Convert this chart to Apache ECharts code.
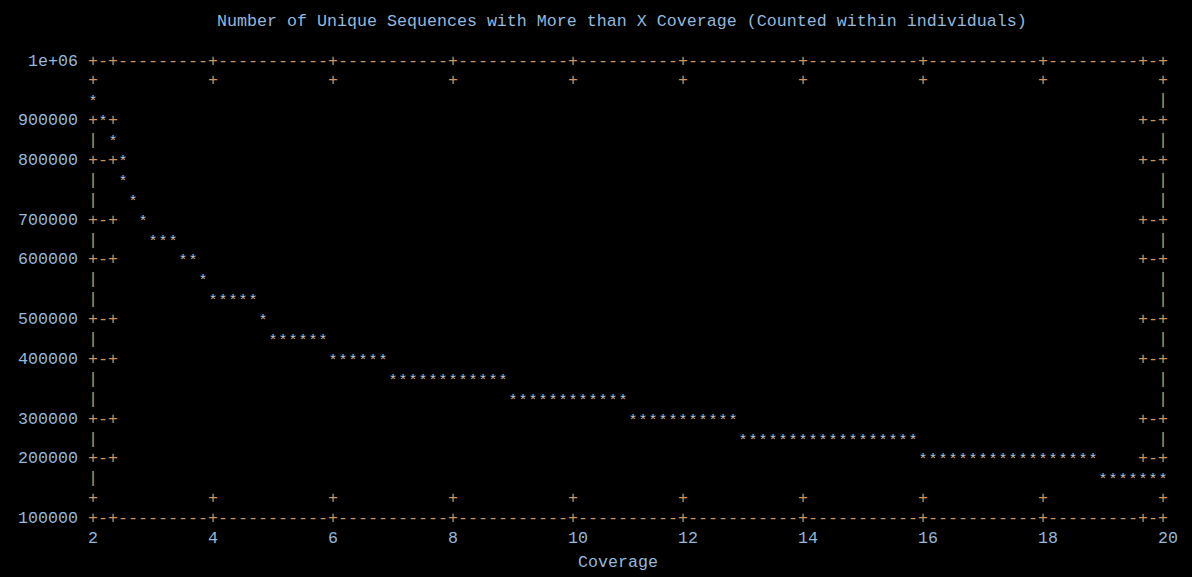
<!DOCTYPE html>
<html>
<head>
<meta charset="utf-8">
<script src="https://cdn.jsdelivr.net/npm/echarts@6/dist/echarts.min.js"></script>
<style>
html,body{margin:0;padding:0;background:#000;}
#chart{width:1192px;height:577px;}
</style>
</head>
<body>
<div id="chart"></div>
<script>
// ---- data ----
const titleText = 'Number of Unique Sequences with More than X Coverage (Counted within individuals)';
const xAxisName = 'Coverage';
const coverage = [2, 3, 4, 5, 6, 7, 8, 9, 10, 11, 12, 13, 14, 15, 16, 17, 18, 19, 20];
const uniqueSequences = [920000, 650000, 530000, 455000, 415000, 380000, 365000, 340000, 325000, 300000, 285000, 265000, 255000, 245000, 225000, 215000, 205000, 185000, 175000];
const xTicks = [2, 4, 6, 8, 10, 12, 14, 16, 18, 20];
const xTickLabels = ['2', '4', '6', '8', '10', '12', '14', '16', '18', '20'];
const yTicks = [100000, 200000, 300000, 400000, 500000, 600000, 700000, 800000, 900000, 1000000];
const yTickLabels = ['100000', '200000', '300000', '400000', '500000', '600000', '700000', '800000', '900000', '1e+06'];

// ---- layout / style ----
const W = 1192, H = 577;
const GRID = {left: 93, right: 29, top: 61, bottom: 56};
const NX = 107, NY = 23;               // plot area size in terminal character cells
const CW = (W - GRID.left - GRID.right) / NX;
const CH = (H - GRID.top - GRID.bottom) / NY;
const X_MIN = 2, X_MAX = 20, Y_MIN = 100000, Y_MAX = 1000000;
const FONT_FAMILY = '"Liberation Mono", "Courier New", monospace';
const FS = 16.66;
const FONT = FS + 'px ' + FONT_FAMILY;
const STAR_FONT = '15px ' + FONT_FAMILY;
const LABEL_COLOR = '#94b8dc';
const FRAME_COLOR = '#d0915a';
const STAR_COLOR = '#bfc2ca';
const STAR_DY = 2;   // compensation for the raised asterisk glyph
const FRAME_DY = 0;

function geom(api) {
  const o = api.coord([X_MIN, Y_MIN]);
  const e = api.coord([X_MAX, Y_MAX]);
  return {x0: o[0], y0: o[1], cw: (e[0] - o[0]) / NX, ch: (o[1] - e[1]) / NY};
}
function toCell(g, p) {
  return [Math.round((p[0] - g.x0) / g.cw + 1e-6), Math.round((g.y0 - p[1]) / g.ch + 1e-6)];
}
// dumb-terminal style line raster between two cells
function segmentCells(c0, r0, c1, r1) {
  const out = [];
  const dx = c1 - c0, dy = r1 - r0;
  if (Math.abs(dy) > Math.abs(dx)) {
    out.push([c0, r0]);
    const n = Math.abs(dy);
    for (let d = 1; d < n; d++) out.push([c0 + Math.trunc(dx * d / n + 0.5), r0 + d * Math.sign(dy)]);
    out.push([c1, r1]);
  } else if (Math.abs(dx) > 0) {
    out.push([c0, r0]);
    const n = Math.abs(dx);
    for (let d = 1; d < n; d++) out.push([c0 + d * Math.sign(dx), r0 + Math.trunc(dy * d / n + 0.5)]);
    out.push([c1, r1]);
  } else {
    out.push([c0, r0]);
  }
  return out;
}
function allLineCells(api, g) {
  const set = new Set();
  for (let i = 0; i < coverage.length; i++) {
    const cur = toCell(g, api.coord([coverage[i], uniqueSequences[i]]));
    if (i === 0) { set.add(cur[0] + ',' + cur[1]); continue; }
    const prev = toCell(g, api.coord([coverage[i - 1], uniqueSequences[i - 1]]));
    segmentCells(prev[0], prev[1], cur[0], cur[1]).forEach(c => set.add(c[0] + ',' + c[1]));
  }
  return set;
}
function charEl(g, c, r, ch, color, dy, font) {
  return {
    type: 'text',
    x: g.x0 + c * g.cw,
    y: g.y0 - r * g.ch + dy,
    silent: true,
    style: {text: ch, fill: color, font: font, align: 'center', verticalAlign: 'middle',
            textAlign: 'center', textVerticalAlign: 'middle'}
  };
}

// ---- frame (border + ticks drawn as characters) ----
function renderFrame(params, api) {
  const g = geom(api);
  const cells = new Map();
  for (let c = 0; c <= NX; c++) { cells.set(c + ',0', '-'); cells.set(c + ',' + NY, '-'); }
  for (let r = 1; r < NY; r++) { cells.set('0,' + r, '|'); cells.set(NX + ',' + r, '|'); }
  yTicks.forEach(v => {
    const r = toCell(g, api.coord([X_MIN, v]))[1];
    cells.set('0,' + r, '+'); cells.set('1,' + r, '-'); cells.set('2,' + r, '+');
    cells.set((NX - 2) + ',' + r, '+'); cells.set((NX - 1) + ',' + r, '-'); cells.set(NX + ',' + r, '+');
  });
  xTicks.forEach(v => {
    const c = toCell(g, api.coord([v, Y_MIN]))[0];
    cells.set(c + ',0', '+'); cells.set(c + ',1', '+');
    cells.set(c + ',' + NY, '+'); cells.set(c + ',' + (NY - 1), '+');
  });
  const occupied = allLineCells(api, g);
  const children = [];
  cells.forEach((ch, key) => {
    if (occupied.has(key)) return;
    const [c, r] = key.split(',').map(Number);
    children.push(charEl(g, c, r, ch, FRAME_COLOR, FRAME_DY, FONT));
  });
  return {type: 'group', children};
}

// ---- data line drawn with '*' cells ----
function renderLine(params, api) {
  const g = geom(api);
  const i = params.dataIndex;
  const cur = toCell(g, api.coord([api.value(0), api.value(1)]));
  let cells;
  if (i === 0) cells = [cur];
  else {
    const prev = toCell(g, api.coord([coverage[i - 1], uniqueSequences[i - 1]]));
    cells = segmentCells(prev[0], prev[1], cur[0], cur[1]).slice(1);
  }
  return {type: 'group', children: cells.map(c => charEl(g, c[0], c[1], '*', STAR_COLOR, STAR_DY, STAR_FONT))};
}

// ---- axis label placement on character rows/columns ----
const yRich = {}, xRich = {};
yTicks.forEach((v, i) => {
  const rows = (v - Y_MIN) / (Y_MAX - Y_MIN) * NY;
  const d = (rows - Math.round(rows)) * CH;   // shift down in px
  yRich['y' + i] = {fontFamily: FONT_FAMILY, fontSize: FS, color: LABEL_COLOR, lineHeight: 20,
                    padding: d > 0 ? [2 * d, 0, 0, 0] : [0, 0, -2 * d, 0]};
});
xTicks.forEach((v, i) => {
  const cols = (v - X_MIN) / (X_MAX - X_MIN) * NX;
  const L = xTickLabels[i].length;
  const s = Math.round(cols + 1e-6) * CW - cols * CW - CW / 2 + L * CW / 2;  // shift right in px
  xRich['x' + i] = {fontFamily: FONT_FAMILY, fontSize: FS, color: LABEL_COLOR, lineHeight: 20,
                    padding: s > 0 ? [0, 0, 0, 2 * s] : [0, -2 * s, 0, 0]};
});

const chart = echarts.init(document.getElementById('chart'), null, {renderer: 'svg', width: W, height: H});
chart.setOption({
  backgroundColor: '#000000',
  animation: false,
  title: {
    text: titleText, left: 217, top: 11, padding: 0,
    textStyle: {fontFamily: FONT_FAMILY, fontSize: FS, fontWeight: 'normal', color: LABEL_COLOR, lineHeight: 20}
  },
  grid: {left: GRID.left, right: GRID.right, top: GRID.top, bottom: GRID.bottom, containLabel: false},
  xAxis: {
    type: 'value', min: X_MIN, max: X_MAX, interval: 2,
    name: xAxisName, nameLocation: 'middle', nameGap: 30,
    nameTextStyle: {fontFamily: FONT_FAMILY, fontSize: FS, color: LABEL_COLOR, lineHeight: 20, padding: [0, 20, 0, 0]},
    axisLine: {show: false}, axisTick: {show: false}, splitLine: {show: false},
    axisLabel: {
      margin: 10, align: 'center',
      formatter: v => { const i = xTicks.indexOf(v); return i < 0 ? '' : '{x' + i + '|' + xTickLabels[i] + '}'; },
      rich: xRich
    }
  },
  yAxis: {
    type: 'value', min: Y_MIN, max: Y_MAX, interval: 100000,
    axisLine: {show: false}, axisTick: {show: false}, splitLine: {show: false},
    axisLabel: {
      margin: 15, align: 'right',
      formatter: v => { const i = yTicks.indexOf(v); return i < 0 ? '' : '{y' + i + '|' + yTickLabels[i] + '}'; },
      rich: yRich
    }
  },
  series: [
    {
      type: 'custom', name: 'frame', coordinateSystem: 'cartesian2d', z: 1, silent: true,
      data: [[X_MIN, Y_MIN]], renderItem: renderFrame
    },
    {
      type: 'custom', name: 'Unique sequences', coordinateSystem: 'cartesian2d', z: 2, silent: true,
      data: coverage.map((x, i) => [x, uniqueSequences[i]]), renderItem: renderLine
    }
  ]
});
</script>
</body>
</html>
